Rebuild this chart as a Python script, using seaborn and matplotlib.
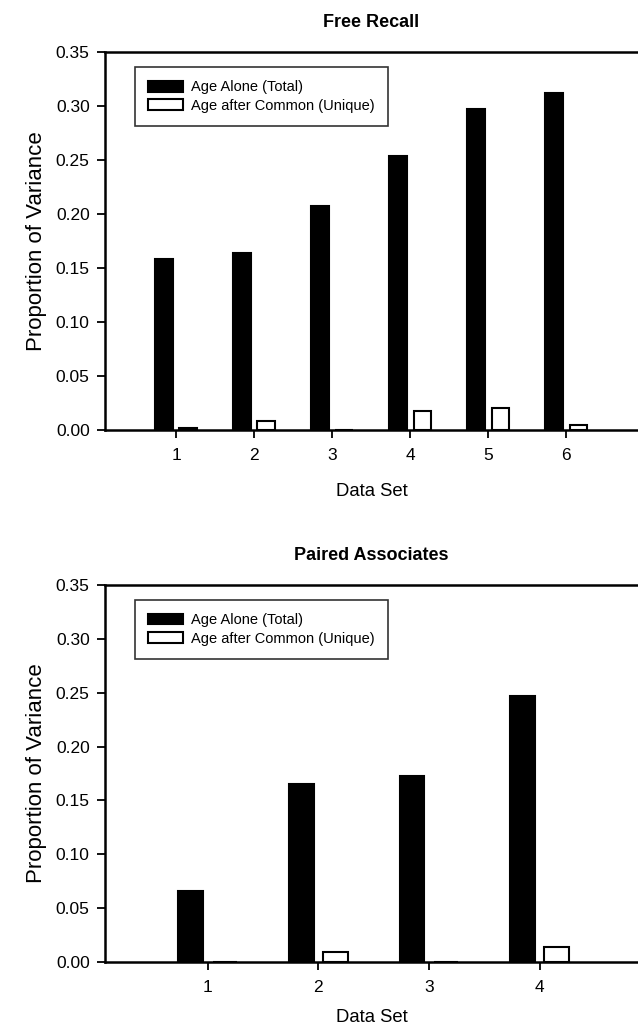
import pandas as pd
import seaborn as sns
import matplotlib.pyplot as plt

# Free Recall panel
fr_sets = ['1', '2', '3', '4', '5', '6']
fr_total = [0.158, 0.164, 0.207, 0.254, 0.297, 0.312]
fr_unique = [0.002, 0.008, 0.000, 0.018, 0.020, 0.005]

# Paired Associates panel
pa_sets = ['1', '2', '3', '4']
pa_total = [0.066, 0.165, 0.173, 0.247]
pa_unique = [0.000, 0.009, 0.000, 0.014]

series = ['Age Alone (Total)', 'Age after Common (Unique)']
y_ticks = [0.00, 0.05, 0.10, 0.15, 0.20, 0.25, 0.30, 0.35]


def long_frame(sets, total, unique):
    rows = []
    for s, t, u in zip(sets, total, unique):
        rows.append([s, series[0], t])
        rows.append([s, series[1], u])
    return pd.DataFrame(rows, columns=['Data Set', 'Measure', 'Proportion'])


sns.set_style('ticks')
plt.rcParams['font.family'] = ['Liberation Sans', 'DejaVu Sans']
plt.rcParams.update({'text.color': 'black', 'axes.labelcolor': 'black',
                     'xtick.color': 'black', 'ytick.color': 'black'})

fig = plt.figure(figsize=(6.38, 10.30), dpi=100)
ax_top = fig.add_axes([0.1646, 0.5825, 0.8354, 0.367])
ax_bot = fig.add_axes([0.1646, 0.066, 0.8354, 0.366])

panels = [
    (ax_top, 'Free Recall', long_frame(fr_sets, fr_total, fr_unique), (-0.91, 5.92), 14),
    (ax_bot, 'Paired Associates', long_frame(pa_sets, pa_total, pa_unique), (-0.93, 3.89), 10),
]

for ax, title, df, xlim, xpad in panels:
    sns.barplot(data=df, x='Data Set', y='Proportion', hue='Measure',
                palette={series[0]: 'black', series[1]: 'white'},
                width=0.62, gap=0.28, edgecolor='black', linewidth=1.5,
                errorbar=None, ax=ax)
    ax.set_xlim(*xlim)
    ax.set_ylim(0, 0.35)
    ax.set_yticks(y_ticks)
    ax.set_yticklabels([f'{v:.2f}' for v in y_ticks])
    ax.set_title(title, fontsize=13, fontweight='bold', pad=18)
    ax.set_xlabel('Data Set', fontsize=13.3, labelpad=xpad)
    ax.set_ylabel('Proportion of Variance', fontsize=16, labelpad=6)
    ax.tick_params(axis='both', labelsize=12.5, length=6, width=1.3, direction='out')
    ax.tick_params(axis='x', pad=7)
    ax.tick_params(axis='y', pad=5)
    for side in ['left', 'top', 'bottom']:
        ax.spines[side].set_linewidth(1.8)
        ax.spines[side].set_color('black')
    ax.spines['right'].set_visible(False)
    leg = ax.legend(loc='upper left', bbox_to_anchor=(0.056, 0.96), borderaxespad=0,
                    fontsize=10.5, frameon=True, fancybox=False, edgecolor='black',
                    handlelength=2.4, handleheight=0.75, borderpad=0.9,
                    labelspacing=0.3, handletextpad=0.55)
    leg.get_frame().set_linewidth(1.2)
    for h in leg.legend_handles:
        h.set_edgecolor('black')
        h.set_linewidth(1.5)

fig.savefig('out.png', dpi=100)
